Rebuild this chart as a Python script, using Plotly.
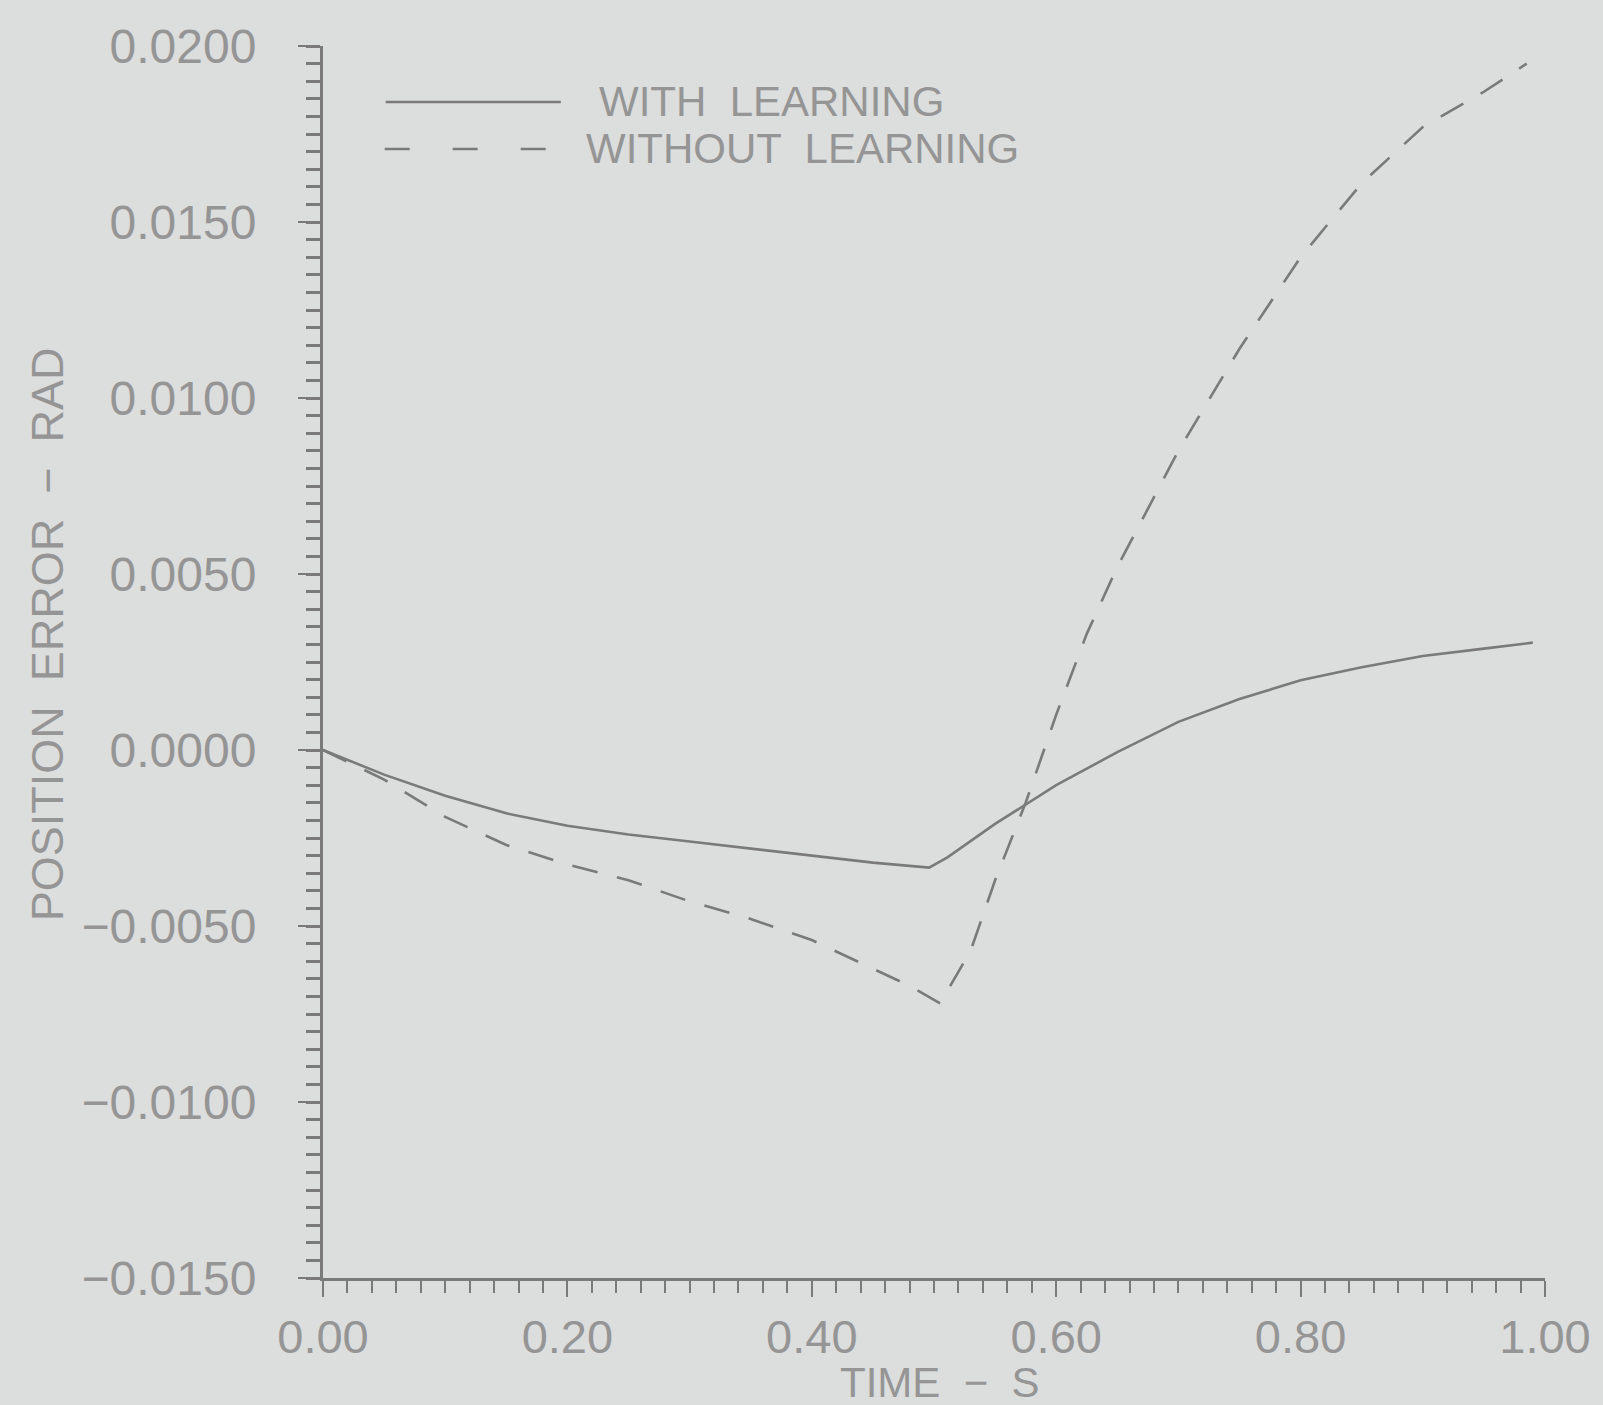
import plotly.graph_objects as go

# ---- data ----
t_with = [0.0, 0.05, 0.10, 0.15, 0.20, 0.25, 0.30, 0.35, 0.40, 0.45, 0.496,
          0.511, 0.55, 0.60, 0.65, 0.70, 0.75, 0.80, 0.85, 0.90, 0.95, 0.99]
e_with = [0.0, -0.0007, -0.0013, -0.0018, -0.00215, -0.0024, -0.0026, -0.0028,
          -0.0030, -0.0032, -0.00334, -0.00305, -0.0021, -0.0010, -0.00006,
          0.0008, 0.00145, 0.00198, 0.00235, 0.00267, 0.00288, 0.00305]

t_without = [0.0, 0.05, 0.10, 0.15, 0.20, 0.25, 0.30, 0.35, 0.40, 0.45, 0.48,
             0.505, 0.53, 0.55, 0.575, 0.60, 0.625, 0.65, 0.70, 0.75, 0.80,
             0.85, 0.90, 0.95, 0.985]
e_without = [0.0, -0.00084, -0.0019, -0.0027, -0.00325, -0.0037, -0.0043,
             -0.0048, -0.0054, -0.0062, -0.0067, -0.0072, -0.0057, -0.0037,
             -0.0015, 0.0010, 0.0033, 0.0052, 0.0085, 0.0114, 0.0140, 0.0161,
             0.0177, 0.0187, 0.0195]

y_tickvals = [0.02, 0.015, 0.01, 0.005, 0.0, -0.005, -0.01, -0.015]
y_ticktext = ["0.0200", "0.0150", "0.0100", "0.0050", "0.0000",
              "\u22120.0050", "\u22120.0100", "\u22120.0150"]
x_tickvals = [0.0, 0.2, 0.4, 0.6, 0.8, 1.0]
x_ticktext = ["0.00", "0.20", "0.40", "0.60", "0.80", "1.00"]

legend_labels = ["WITH  LEARNING", "WITHOUT  LEARNING"]
x_title = "TIME  \u2212  S"
y_title = "POSITION  ERROR  \u2212  RAD"

# ---- style ----
BG = "#dcdddd"
LINE = "#7a7a7a"
TXT = "#959595"
FONT = "Liberation Sans"

fig = go.Figure()
fig.add_trace(go.Scatter(x=t_with, y=e_with, mode="lines",
                         line=dict(color=LINE, width=2.6), name=legend_labels[0],
                         showlegend=False))
fig.add_trace(go.Scatter(x=t_without, y=e_without, mode="lines",
                         line=dict(color=LINE, width=2.6, dash="26px,20px"),
                         name=legend_labels[1], showlegend=False))

# manual legend (line samples + labels)
fig.add_shape(type="line", xref="paper", yref="paper",
              x0=(386 - 323) / 1228, x1=(562 - 323) / 1228,
              y0=(1278 - 102) / 1232, y1=(1278 - 102) / 1232,
              line=dict(color=LINE, width=2.6))
fig.add_shape(type="line", xref="paper", yref="paper",
              x0=(385 - 323) / 1228, x1=(548 - 323) / 1228,
              y0=(1278 - 149) / 1232, y1=(1278 - 149) / 1232,
              line=dict(color=LINE, width=2.6, dash="25px,43px"))
fig.add_annotation(text=legend_labels[0], xref="paper", yref="paper",
                   x=(598 - 323) / 1228, y=(1278 - 102) / 1232,
                   xanchor="left", yanchor="middle", showarrow=False,
                   font=dict(family=FONT, size=42, color=TXT))
fig.add_annotation(text=legend_labels[1], xref="paper", yref="paper",
                   x=(585 - 323) / 1228, y=(1278 - 149) / 1232,
                   xanchor="left", yanchor="middle", showarrow=False,
                   font=dict(family=FONT, size=42, color=TXT))

# axis titles
fig.add_annotation(text=x_title, xref="paper", yref="paper",
                   x=(943 - 323) / 1228, y=(1278 - 1382) / 1232,
                   xanchor="center", yanchor="middle", showarrow=False,
                   font=dict(family=FONT, size=42, color=TXT))
fig.add_annotation(text=y_title, xref="paper", yref="paper",
                   x=(46 - 323) / 1228, y=(1278 - 634) / 1232,
                   xanchor="center", yanchor="middle", showarrow=False,
                   textangle=-90,
                   font=dict(family=FONT, size=45, color=TXT))

fig.update_layout(
    width=1603, height=1405,
    margin=dict(l=323, r=52, t=46, b=127, pad=0),
    paper_bgcolor=BG, plot_bgcolor=BG,
    font=dict(family=FONT, color=TXT),
    showlegend=False,
)
fig.update_xaxes(
    range=[0, 1.0], showgrid=False, zeroline=False,
    showline=True, linecolor=LINE, linewidth=3,
    tickmode="array", tickvals=x_tickvals, ticktext=x_ticktext,
    ticks="outside", ticklen=16, tickwidth=2, tickcolor=LINE,
    tickfont=dict(family=FONT, size=47, color=TXT),
    minor=dict(dtick=0.02, ticks="outside", ticklen=12, tickwidth=2,
               tickcolor=LINE, showgrid=False),
)
fig.update_yaxes(
    range=[-0.015, 0.02], showgrid=False, zeroline=False,
    showline=True, linecolor=LINE, linewidth=3,
    tickmode="array", tickvals=y_tickvals, ticktext=y_ticktext,
    ticks="outside", ticklen=22, tickwidth=2, tickcolor=LINE,
    ticklabelstandoff=32,
    tickfont=dict(family=FONT, size=48, color=TXT),
    minor=dict(dtick=0.0005, tick0=0, ticks="outside", ticklen=14, tickwidth=3,
               tickcolor=LINE, showgrid=False),
)

fig.write_html("out.html",
               config={"displayModeBar": False},
               post_script="document.body.style.margin='0';"
                           "document.body.style.background='" + BG + "';")
